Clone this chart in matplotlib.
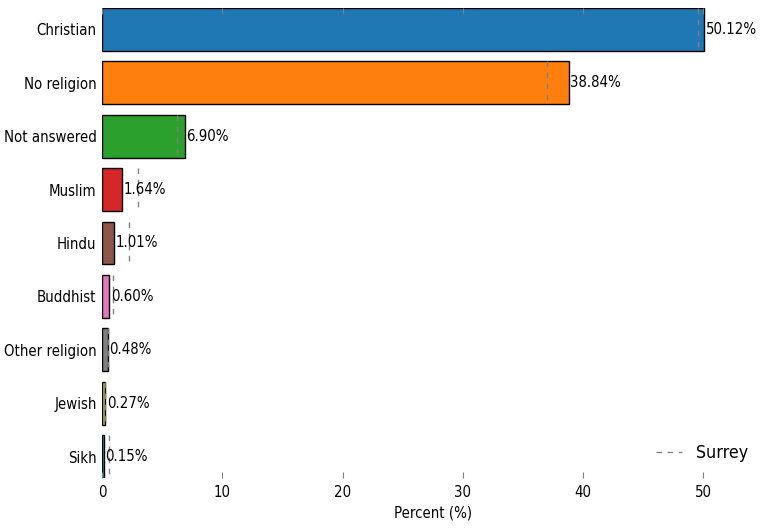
import numpy as np
from matplotlib import pyplot as plt

plt.rcParams['font.family'] = ['DejaVu Sans']
plt.rcParams['font.stretch'] = 'condensed'

# 宗教构成 (%)
religions = ['Christian', 'No religion', 'Not answered', 'Muslim', 'Hindu',
             'Buddhist', 'Other religion', 'Jewish', 'Sikh']
pct = [50.12, 38.84, 6.90, 1.64, 1.01, 0.60, 0.48, 0.27, 0.15]
# Surrey 参考值
surrey = [49.6, 37.0, 6.2, 3.0, 2.2, 0.9, 0.5, 0.2, 0.6]
colors = ['tab:blue', 'tab:orange', 'tab:green', 'tab:red', 'tab:brown',
          'tab:pink', 'tab:gray', 'tab:olive', 'tab:cyan']

fs = 10.7
fig = plt.figure(figsize=(7.74, 5.32), dpi=100)
ax = fig.add_axes([0.132, 0.1015, 0.856, 0.8835])

y = np.arange(len(religions))
bar_h = 0.8
bars = ax.barh(y, pct, height=bar_h, color=colors, edgecolor='black', linewidth=1)
ax.bar_label(bars, labels=[f"{v:.2f}%" for v in pct], padding=1, fontsize=fs)

for i, s in enumerate(surrey):
    ax.vlines(s, i - bar_h / 2, i + bar_h / 2, colors='gray', linestyles=(0, (4, 4)),
              linewidth=1, label='Surrey' if i == 0 else None)

ax.set_yticks(y)
ax.set_yticklabels(religions, fontsize=fs)
ax.set_ylim(len(religions) - 1 + bar_h / 2, -bar_h / 2)
ax.set_xlim(0, max(pct) * 1.1)
ax.set_xticks([0, 10, 20, 30, 40, 50])
ax.set_xlabel('Percent (%)', fontsize=fs)

for sp in ax.spines.values():
    sp.set_visible(False)
ax.tick_params(axis='x', direction='in', top=True, bottom=True, length=4,
               color='gray', labelsize=fs, pad=5)
ax.tick_params(axis='y', length=0, pad=4)

ax.legend(loc='lower right', frameon=False, fontsize=12.8, handlelength=1.5)

fig.savefig('out.png', dpi=100)
